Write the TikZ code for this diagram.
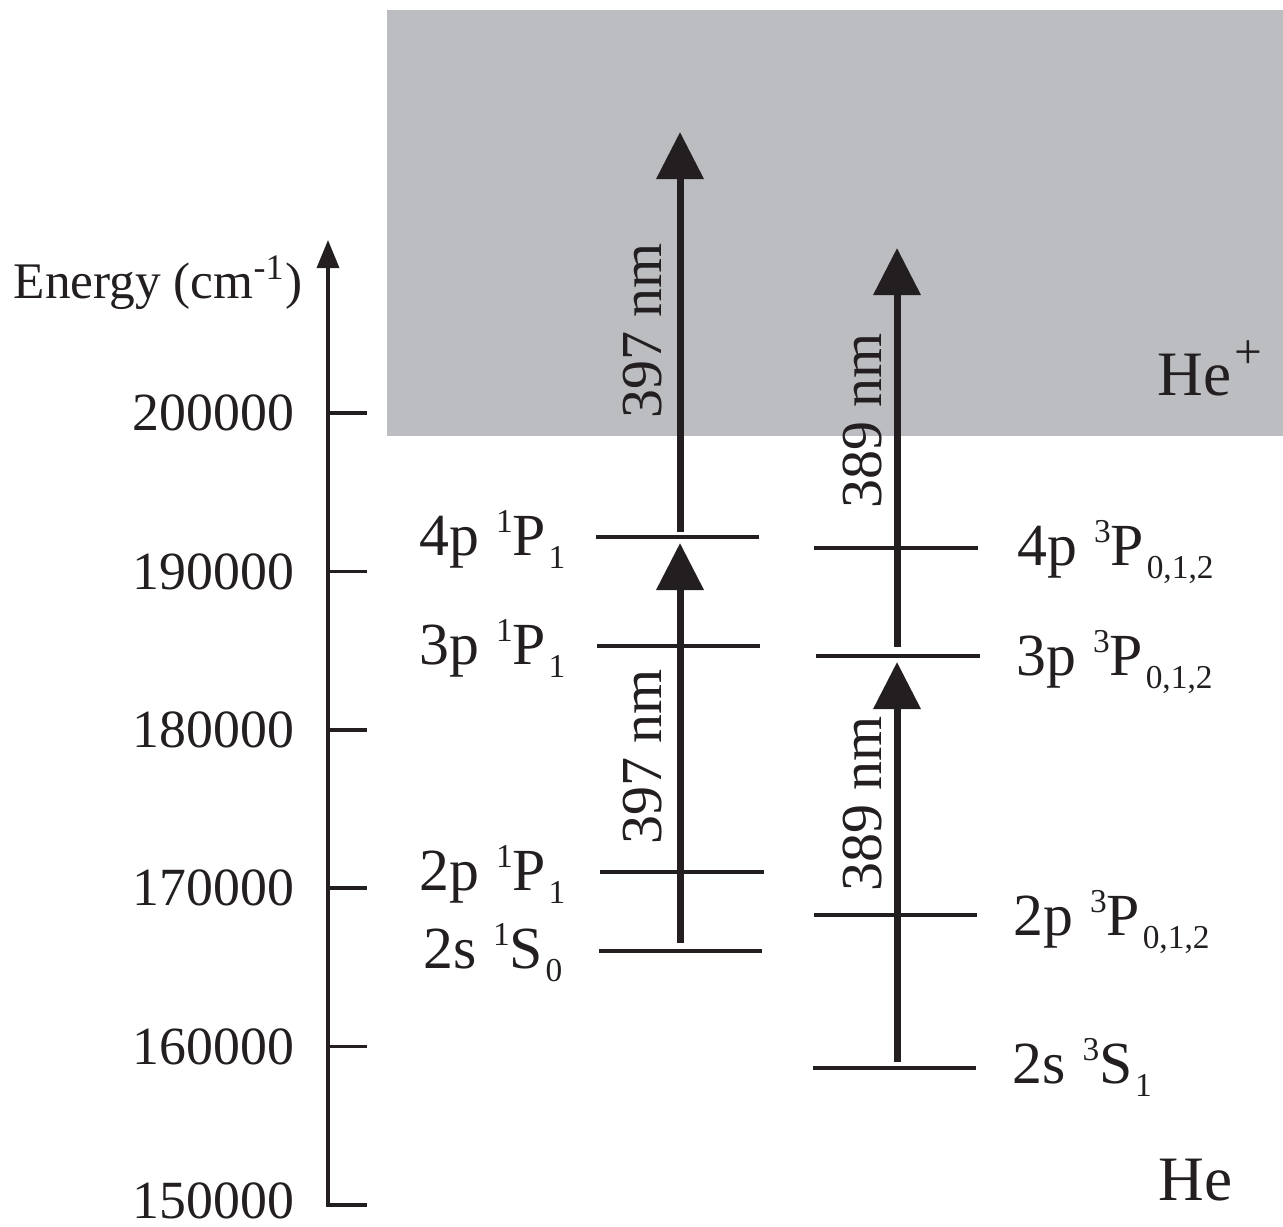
\documentclass[tikz,border=0pt]{standalone}
\usepackage{fontspec}
\setmainfont{Liberation Serif}
\usepackage{xcolor}
\definecolor{inkblk}{RGB}{35,31,32}
\definecolor{contgray}{RGB}{188,189,193}
\usepackage{tikz}
\usetikzlibrary{positioning, arrows.meta, calc}

% term symbol: n l, spin multiplicity, L, J
\newcommand{\termsym}[4]{#1\hspace{0.28em}\raisebox{0.38em}{\fontsize{9.5}{9.5}\selectfont #2}#3\raisebox{-0.22em}{\fontsize{9.5}{9.5}\selectfont\hspace{0.08em}#4}}

\begin{document}
\begin{tikzpicture}[
  level/.style={draw=inkblk, line width=1.2pt},
  axisline/.style={draw=inkblk, line width=1pt},
  photon/.style={draw=inkblk, line width=2pt, -{Triangle[length=4.7mm, width=4.6mm]}},
  ticklab/.style={font=\fontsize{15.3}{18}\selectfont, text=inkblk, inner sep=0pt},
  lvlab/.style={font=\fontsize{17}{20}\selectfont, text=inkblk, inner sep=0pt},
  wavelab/.style={font=\fontsize{16.5}{20}\selectfont, text=inkblk, inner sep=0pt, rotate=90},
  biglab/.style={font=\fontsize{18}{21}\selectfont, text=inkblk, inner sep=0pt},
]
\useasboundingbox (0,0) rectangle (12.83,-12.26);

% continuum above the ionisation limit
\fill[contgray] (3.87,-0.10) rectangle (12.83,-4.36);

% energy axis
\coordinate (ax0) at (3.28,-12.05);
\coordinate (axtop) at (3.28,-2.40);
\draw[axisline, -{Triangle[length=2.8mm, width=2.2mm]}] (3.67,-12.05) -- (ax0) -- (axtop);
\foreach \val [count=\i from 0] in {150000,160000,170000,180000,190000,200000} {
  \pgfmathsetmacro{\ty}{-12.05+1.584*\i}
  \draw[axisline] (3.28,\ty) -- (3.67,\ty);
  \ifnum\i=0
    \node[ticklab, anchor=east] (e\val) at (2.95,\ty+0.04) {\val};
  \else
    \node[ticklab, anchor=east] (e\val) at (2.95,\ty) {\val};
  \fi
}
\node[ticklab, font=\fontsize{14.6}{18}\selectfont, anchor=base west] (elab) at (0.13,-2.98) {Energy (cm\textsuperscript{-1})};

% singlet levels
\foreach \name/\xa/\xb/\y in {s4p/5.96/7.59/5.37, s3p/5.97/7.60/6.46, s2p/6.00/7.64/8.72, s2s/5.99/7.62/9.51} {
  \coordinate (\name L) at (\xa,-\y);
  \coordinate (\name R) at (\xb,-\y);
  \draw[level] (\name L) -- (\name R);
}
% triplet levels
\foreach \name/\xa/\xb/\y in {t4p/8.14/9.78/5.48, t3p/8.16/9.80/6.56, t2p/8.14/9.77/9.15, t2s/8.13/9.76/10.68} {
  \coordinate (\name L) at (\xa,-\y);
  \coordinate (\name R) at (\xb,-\y);
  \draw[level] (\name L) -- (\name R);
}

\node[lvlab, anchor=base east] (ls4p) at (5.66,-5.55) {\termsym{4p}{1}{P}{1}};
\node[lvlab, anchor=base east] (ls3p) at (5.66,-6.64) {\termsym{3p}{1}{P}{1}};
\node[lvlab, anchor=base east] (ls2p) at (5.66,-8.90) {\termsym{2p}{1}{P}{1}};
\node[lvlab, anchor=base east] (ls2s) at (5.63,-9.68) {\termsym{2s}{1}{S}{0}};

\node[lvlab, anchor=base west] (lt4p) at (10.17,-5.65) {\termsym{4p}{3}{P}{0,1,2}};
\node[lvlab, anchor=base west] (lt3p) at (10.16,-6.75) {\termsym{3p}{3}{P}{0,1,2}};
\node[lvlab, anchor=base west] (lt2p) at (10.13,-9.35) {\termsym{2p}{3}{P}{0,1,2}};
\node[lvlab, anchor=base west] (lt2s) at (10.12,-10.83) {\termsym{2s}{3}{S}{1}};

% two-photon ionisation paths
\coordinate (p1a) at (6.80,-9.43);  \coordinate (p1b) at (6.80,-5.43);
\coordinate (p2a) at (6.80,-5.32);  \coordinate (p2b) at (6.80,-1.32);
\coordinate (p3a) at (8.97,-10.62); \coordinate (p3b) at (8.97,-6.62);
\coordinate (p4a) at (8.97,-6.47);  \coordinate (p4b) at (8.97,-2.48);
\draw[photon] (p1a) -- (p1b);
\draw[photon] (p2a) -- (p2b);
\draw[photon] (p3a) -- (p3b);
\draw[photon] (p4a) -- (p4b);

\node[wavelab] (w1) at (6.43,-7.57) {397 nm};
\node[wavelab] (w2) at (6.43,-3.31) {397 nm};
\node[wavelab] (w3) at (8.62,-8.04) {389 nm};
\node[wavelab] (w4) at (8.62,-4.21) {389 nm};

\node[biglab, anchor=base west] (ion) at (11.57,-3.95) {He\hspace{0.05em}\raisebox{0.42em}{\fontsize{14}{14}\selectfont +}};
\node[biglab, anchor=base west] (atom) at (11.58,-12.00) {He};
\end{tikzpicture}
\end{document}
